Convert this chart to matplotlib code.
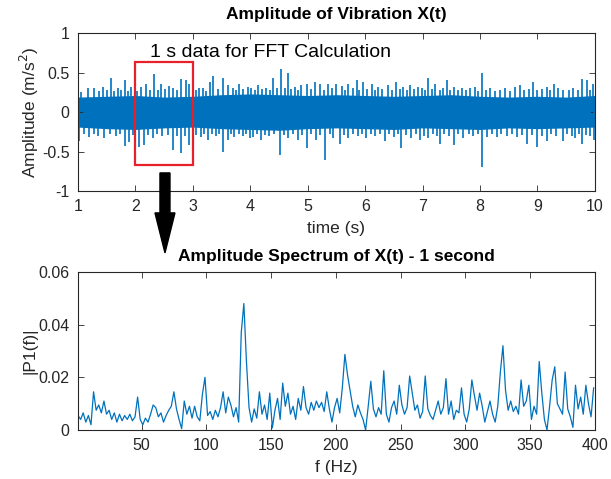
import numpy as np
import matplotlib
matplotlib.use("Agg")
import matplotlib.pyplot as plt
from matplotlib.patches import Rectangle, FancyArrow

plt.rcParams['font.family'] = ['Liberation Sans', 'DejaVu Sans']

# ---- top panel: vibration signal ----
# solid core of the noise band, every 0.5 s from 1 s to 10 s
core_t = np.arange(1.0, 10.01, 0.5)
core_hi = [0.19, 0.20, 0.21, 0.19, 0.20, 0.22, 0.23, 0.22, 0.21, 0.22,
           0.21, 0.20, 0.21, 0.22, 0.20, 0.19, 0.20, 0.19, 0.21]
core_lo = [-0.19, -0.21, -0.22, -0.20, -0.19, -0.21, -0.22, -0.23, -0.21, -0.20,
           -0.21, -0.22, -0.20, -0.21, -0.22, -0.20, -0.21, -0.20, -0.19]

# positive spikes sticking out of the band
up_t = [1.05, 1.17, 1.28, 1.36, 1.43, 1.50, 1.57, 1.63, 1.69, 1.75, 1.81, 1.87, 1.92,
        2.02, 2.10, 2.18, 2.25, 2.33, 2.39, 2.44, 2.52, 2.59, 2.66, 2.73, 2.80, 2.88, 2.94,
        3.05, 3.11, 3.17, 3.23, 3.29, 3.35, 3.43, 3.52, 3.61, 3.69, 3.75, 3.81, 3.88, 3.96,
        4.02, 4.08, 4.13, 4.20, 4.28, 4.34, 4.40, 4.47, 4.54, 4.60, 4.65, 4.71, 4.77, 4.83, 4.89, 4.98,
        5.05, 5.12, 5.21, 5.28, 5.35, 5.42, 5.50, 5.59, 5.65, 5.70, 5.78, 5.85, 5.90, 5.96,
        6.03, 6.11, 6.17, 6.22, 6.30, 6.40, 6.47, 6.54, 6.60, 6.66, 6.72, 6.78, 6.85, 6.92, 6.99,
        7.04, 7.10, 7.16, 7.22, 7.30, 7.36, 7.42, 7.48, 7.54, 7.61, 7.68, 7.76, 7.83, 7.92, 7.97,
        8.03, 8.10, 8.18, 8.26, 8.35, 8.44, 8.52, 8.61, 8.70, 8.77, 8.85, 8.93,
        9.00, 9.08, 9.16, 9.22, 9.28, 9.36, 9.45, 9.54, 9.62, 9.70, 9.77, 9.86, 9.92, 9.97]
up_v = [0.25, 0.30, 0.30, 0.27, 0.32, 0.28, 0.43, 0.27, 0.30, 0.28, 0.40, 0.27, 0.32,
        0.27, 0.32, 0.35, 0.28, 0.48, 0.28, 0.36, 0.29, 0.33, 0.30, 0.28, 0.42, 0.40, 0.35,
        0.28, 0.30, 0.30, 0.27, 0.38, 0.46, 0.29, 0.43, 0.34, 0.30, 0.28, 0.35, 0.29, 0.32,
        0.30, 0.28, 0.34, 0.29, 0.30, 0.28, 0.43, 0.30, 0.55, 0.30, 0.49, 0.29, 0.32, 0.28, 0.34, 0.36,
        0.29, 0.38, 0.35, 0.28, 0.36, 0.30, 0.36, 0.33, 0.28, 0.36, 0.30, 0.40, 0.28, 0.38,
        0.29, 0.35, 0.28, 0.32, 0.29, 0.34, 0.28, 0.38, 0.29, 0.32, 0.28, 0.34, 0.29, 0.32, 0.30,
        0.28, 0.43, 0.29, 0.36, 0.28, 0.30, 0.40, 0.28, 0.32, 0.28, 0.30, 0.28, 0.30, 0.32, 0.27,
        0.50, 0.28, 0.30, 0.27, 0.28, 0.30, 0.27, 0.32, 0.34, 0.28, 0.29, 0.38,
        0.28, 0.29, 0.32, 0.28, 0.36, 0.30, 0.28, 0.28, 0.30, 0.28, 0.42, 0.40, 0.28, 0.36]

# negative spikes
dn_t = [1.02, 1.10, 1.19, 1.27, 1.35, 1.46, 1.55, 1.66, 1.73, 1.81, 1.89, 1.96,
        2.07, 2.15, 2.22, 2.30, 2.38, 2.47, 2.56, 2.65, 2.72, 2.80, 2.87, 2.94,
        3.05, 3.14, 3.20, 3.26, 3.33, 3.40, 3.46, 3.52, 3.61, 3.66, 3.72, 3.80, 3.87, 3.93, 3.99,
        4.05, 4.12, 4.19, 4.26, 4.33, 4.42, 4.51, 4.58, 4.66, 4.75, 4.83, 4.90, 4.98,
        5.06, 5.15, 5.22, 5.30, 5.38, 5.44, 5.56, 5.63, 5.70, 5.78, 5.88, 5.95,
        6.02, 6.10, 6.17, 6.25, 6.34, 6.42, 6.51, 6.57, 6.63, 6.71, 6.80, 6.88, 6.95,
        7.02, 7.10, 7.18, 7.25, 7.31, 7.38, 7.46, 7.54, 7.62, 7.71, 7.80, 7.88, 7.96,
        8.03, 8.12, 8.20, 8.29, 8.37, 8.47, 8.55, 8.64, 8.73, 8.82, 8.90,
        9.00, 9.08, 9.16, 9.24, 9.32, 9.45, 9.52, 9.60, 9.66, 9.72, 9.77, 9.85, 9.92, 9.98]
dn_v = [-0.37, -0.28, -0.31, -0.28, -0.30, -0.33, -0.28, -0.30, -0.28, -0.43, -0.38, -0.29,
        -0.44, -0.42, -0.29, -0.33, -0.28, -0.30, -0.29, -0.48, -0.30, -0.52, -0.30, -0.42,
        -0.29, -0.32, -0.28, -0.35, -0.28, -0.30, -0.28, -0.50, -0.35, -0.28, -0.32, -0.28, -0.30, -0.28, -0.33,
        -0.31, -0.28, -0.35, -0.29, -0.30, -0.28, -0.54, -0.29, -0.33, -0.28, -0.35, -0.29, -0.46,
        -0.28, -0.35, -0.29, -0.60, -0.28, -0.33, -0.40, -0.29, -0.33, -0.28, -0.30, -0.28,
        -0.33, -0.28, -0.30, -0.28, -0.36, -0.28, -0.32, -0.28, -0.46, -0.29, -0.33, -0.28, -0.35,
        -0.30, -0.33, -0.28, -0.30, -0.41, -0.28, -0.30, -0.42, -0.28, -0.33, -0.28, -0.30, -0.28,
        -0.69, -0.32, -0.28, -0.32, -0.28, -0.30, -0.28, -0.32, -0.29, -0.40, -0.29,
        -0.44, -0.30, -0.36, -0.28, -0.30, -0.36, -0.28, -0.30, -0.33, -0.28, -0.41, -0.29, -0.30, -0.35]

# ---- bottom panel: single sided amplitude spectrum, every 2 Hz ----
freq = np.arange(1, 400, 2)
P1 = [0.0055, 0.004, 0.0065, 0.003, 0.0055, 0.002, 0.0145, 0.0075, 0.0095, 0.0065,
      0.011, 0.006, 0.0075, 0.004, 0.0065, 0.003, 0.006, 0.0035, 0.0055, 0.004,
      0.006, 0.0035, 0.005, 0.0125, 0.004, 0.002, 0.0045, 0.003, 0.006, 0.0095,
      0.0085, 0.005, 0.0065, 0.003, 0.0055, 0.0075, 0.009, 0.0145, 0.008, 0.004,
      0.0005, 0.011, 0.006, 0.009, 0.0045, 0.009, 0.005, 0.0035, 0.0135, 0.02,
      0.0055, 0.007, 0.004, 0.0075, 0.005, 0.0085, 0.0145, 0.0065, 0.0125, 0.0095,
      0.005, 0.0085, 0.003, 0.037, 0.048, 0.026, 0.0085, 0.003, 0.008, 0.0045,
      0.0145, 0.006, 0.0095, 0.004, 0.014, 0.0008, 0.0075, 0.012, 0.004, 0.0178,
      0.009, 0.014, 0.006, 0.009, 0.004, 0.012, 0.0075, 0.0165, 0.0085, 0.006,
      0.0105, 0.0075, 0.011, 0.0085, 0.0105, 0.007, 0.0145, 0.008, 0.003, 0.0085,
      0.012, 0.0065, 0.016, 0.0287, 0.021, 0.015, 0.009, 0.005, 0.0095, 0.0065,
      0.004, 0.0, 0.009, 0.0185, 0.008, 0.005, 0.0085, 0.006, 0.0225, 0.006,
      0.003, 0.0085, 0.011, 0.006, 0.017, 0.0095, 0.006, 0.0085, 0.0205, 0.014,
      0.0075, 0.0095, 0.0045, 0.007, 0.0205, 0.008, 0.0055, 0.004, 0.0075, 0.011,
      0.006, 0.0085, 0.0195, 0.006, 0.011, 0.004, 0.0075, 0.0065, 0.016, 0.006,
      0.003, 0.008, 0.019, 0.013, 0.0075, 0.014, 0.009, 0.003, 0.007, 0.011,
      0.006, 0.003, 0.009, 0.022, 0.032, 0.015, 0.0075, 0.011, 0.007, 0.009,
      0.006, 0.019, 0.009, 0.011, 0.017, 0.004, 0.009, 0.006, 0.026, 0.014,
      0.004, 0.0, 0.009, 0.019, 0.024, 0.01, 0.008, 0.006, 0.022, 0.008,
      0.005, 0.001, 0.017, 0.008, 0.0125, 0.006, 0.017, 0.01, 0.005, 0.016]

top_yticks = [-1, -0.5, 0, 0.5, 1]
top_ylabels = ['-1', '-0.5', '0', '0.5', '1']
bot_yticks = [0, 0.02, 0.04, 0.06]
bot_ylabels = ['0', '0.02', '0.04', '0.06']
bot_xticks = [50, 100, 150, 200, 250, 300, 350, 400]

blue = '#0072BD'
grey = '#262626'


def matlab_axes(ax):
    for s in ax.spines.values():
        s.set_color(grey)
        s.set_linewidth(0.8)
    ax.tick_params(direction='in', top=True, right=True, length=4, width=0.6,
                   color=grey, labelcolor=grey, labelsize=11.5, pad=6)


fig = plt.figure(figsize=(6.11, 4.79), dpi=100)
ax1 = fig.add_axes([0.1277, 0.601, 0.846, 0.33])
ax2 = fig.add_axes([0.1277, 0.1023, 0.846, 0.33])

# top: signal
ax1.fill_between(core_t, core_lo, core_hi, color=blue, lw=0)
ax1.vlines(up_t, 0, up_v, color=blue, lw=1.2)
ax1.vlines(dn_t, dn_v, 0, color=blue, lw=1.2)
ax1.set_xlim(1, 10)
ax1.set_ylim(-1, 1)
ax1.set_xticks(range(1, 11))
ax1.set_yticks(top_yticks)
ax1.set_yticklabels(top_ylabels)
matlab_axes(ax1)
ax1.set_title('Amplitude of Vibration X(t)', fontsize=12.5, fontweight='bold', pad=10)
ax1.set_xlabel('time (s)', fontsize=12.5, color=grey, labelpad=5)
ax1.set_ylabel('Amplitude (m/s$^2$)', fontsize=12.5, color=grey, labelpad=1)
ax1.add_patch(Rectangle((2, -0.67), 1, 1.30, fill=False, ec='#E8202A', lw=1.6, zorder=5))
ax1.text(2.25, 0.76, '1 s data for FFT Calculation', fontsize=14, color='black',
         va='center', ha='left')

# bottom: spectrum
ax2.plot(freq, P1, color=blue, lw=0.9)
ax2.set_xlim(1, 400)
ax2.set_ylim(0, 0.06)
ax2.set_xticks(bot_xticks)
ax2.set_yticks(bot_yticks)
ax2.set_yticklabels(bot_ylabels)
matlab_axes(ax2)
ax2.set_title('Amplitude Spectrum of X(t) - 1 second', fontsize=12.5, fontweight='bold', pad=8)
ax2.set_xlabel('f (Hz)', fontsize=12.5, color=grey, labelpad=5)
ax2.set_ylabel('|P1(f)|', fontsize=12.5, color=grey, labelpad=1)

# big arrow from the selected window down to the spectrum
fig.patches.append(FancyArrow(0.270, 0.639, 0, -0.167, width=0.0164, head_width=0.0327,
                              head_length=0.0835, length_includes_head=True,
                              color='black', transform=fig.transFigure, zorder=10))

fig.savefig('out.png', dpi=100)
